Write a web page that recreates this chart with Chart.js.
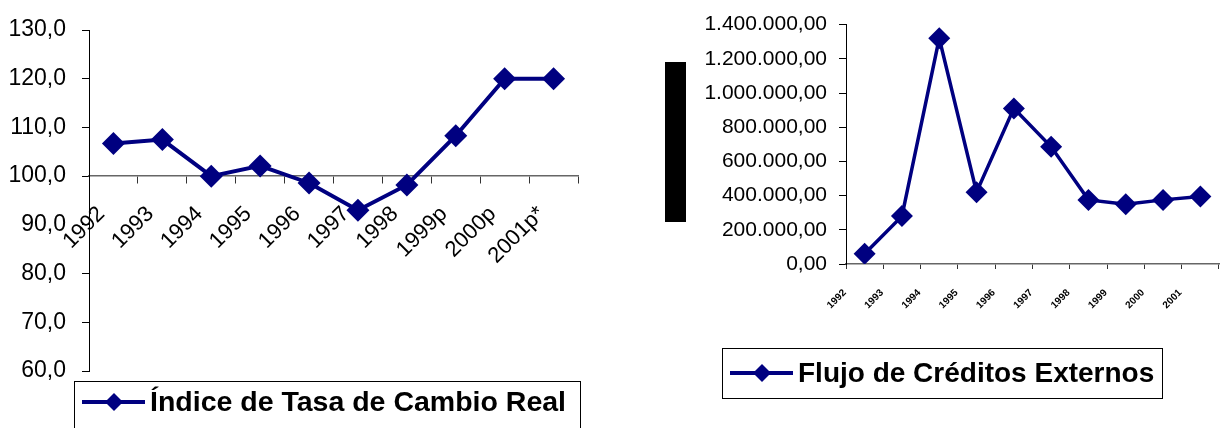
<!DOCTYPE html>
<html>
<head>
<meta charset="utf-8">
<script src="https://cdn.jsdelivr.net/npm/chart.js@4.4.0/dist/chart.umd.min.js"></script>
<style>
  html, body { margin: 0; padding: 0; background: #fff; }
  #page { position: relative; width: 1230px; height: 428px; overflow: hidden; }
  canvas { position: absolute; top: 0; }
  #tasaChart { left: 0; }
  #creditosChart { left: 630px; }
  #barraTitulo { position: absolute; left: 665px; top: 62px; width: 21px; height: 160px; background: #000; z-index: 2; }
</style>
</head>
<body>
<div id="page">
  <canvas id="tasaChart" width="600" height="428"></canvas>
  <canvas id="creditosChart" width="600" height="428"></canvas>
  <div id="barraTitulo"></div>
</div>
<script>
// indice de tasa de cambio real
const anios = ['1992', '1993', '1994', '1995', '1996', '1997', '1998', '1999p', '2000p', '2001p*']
const indiceTasa = [106.7, 107.5, 100.0, 102.1, 98.6, 93.0, 98.2, 108.3, 120.0, 120.0]
const ticksIndice = [60, 70, 80, 90, 100, 110, 120, 130]

// flujo de creditos externos
const aniosCreditos = ['1992', '1993', '1994', '1995', '1996', '1997', '1998', '1999', '2000', '2001']
const flujoCreditos = [60000, 280000, 1320000, 420000, 910000, 685000, 375000, 350000, 375000, 395000]
const ticksCreditos = [0, 200000, 400000, 600000, 800000, 1000000, 1200000, 1400000]

const AZUL = '#000080'
const FUENTE = '"Liberation Sans", Arial, Helvetica, sans-serif'
Chart.defaults.font.family = FUENTE
Chart.defaults.color = '#000'

const coma1 = v => v.toFixed(1).replace('.', ',')
const miles = v => {
  let ent = Math.round(v).toString().replace(/\B(?=(\d{3})+(?!\d))/g, '.')
  return ent + ',00'
}

// legend with a frame, line and diamond like the spreadsheet one
const leyendaMarco = {
  id: 'leyendaMarco',
  afterDraw(chart, args, opts) {
    const ctx = chart.ctx
    const ds = chart.data.datasets[0]
    const { x, y, w, h, midY, size } = opts
    const my = y + midY
    ctx.save()
    ctx.fillStyle = '#fff'
    ctx.fillRect(x, y, w, h)
    ctx.strokeStyle = '#000'
    ctx.lineWidth = 1
    ctx.strokeRect(x + 0.5, y + 0.5, w, h)

    ctx.strokeStyle = ds.borderColor
    ctx.lineWidth = 4
    ctx.beginPath()
    ctx.moveTo(x + 8, my)
    ctx.lineTo(x + 71, my)
    ctx.stroke()

    const cx = x + 40, r = 9
    ctx.fillStyle = ds.borderColor
    ctx.beginPath()
    ctx.moveTo(cx, my - r)
    ctx.lineTo(cx + r, my)
    ctx.lineTo(cx, my + r)
    ctx.lineTo(cx - r, my)
    ctx.closePath()
    ctx.fill()

    ctx.fillStyle = '#000'
    ctx.font = 'bold ' + size + 'px ' + FUENTE
    ctx.textBaseline = 'middle'
    ctx.textAlign = 'left'
    ctx.fillText(ds.label, x + 76, my + 1)
    ctx.restore()
  }
}

const ctx1 = document.getElementById('tasaChart')

let config1 = {
  type: 'line',
  data: {
    labels: anios,
    datasets: [{
      label: 'Índice de Tasa de Cambio Real',
      data: indiceTasa,
      borderColor: AZUL,
      backgroundColor: AZUL,
      borderWidth: 4,
      pointStyle: 'rectRot',
      pointRadius: 11.5,
      pointBorderWidth: 0,
      tension: 0,
    }]
  },
  plugins: [leyendaMarco],
  options: {
    responsive: false,
    animation: false,
    layout: { padding: { top: 30, bottom: 57, right: 22, left: 0 } },
    plugins: {
      legend: { display: false },
      tooltip: { enabled: false },
      leyendaMarco: { x: 74, y: 381, w: 506, h: 60, midY: 21, size: 28.5 }
    },
    scales: {
      x: {
        type: 'category',
        offset: true,
        position: { y: 100 },
        border: { display: true, color: '#666', width: 1.5 },
        grid: { drawOnChartArea: false, offset: true, tickLength: 7, color: '#333' },
        ticks: {
          autoSkip: false,
          minRotation: 45,
          maxRotation: 45,
          padding: 18,
          labelOffset: -12,
          font: { size: 22 },
          color: '#000'
        }
      },
      y: {
        min: ticksIndice[0],
        max: ticksIndice[ticksIndice.length - 1],
        afterFit: scale => { scale.width = 89 },
        afterBuildTicks: scale => { scale.ticks = ticksIndice.map(v => ({ value: v })) },
        border: { display: true, color: '#000', width: 1 },
        grid: { drawOnChartArea: false, tickLength: 7, color: '#000' },
        ticks: {
          padding: 16,
          font: { size: 23 },
          color: '#000',
          callback: value => coma1(value)
        }
      }
    }
  }
}
let chartTasa = new Chart(ctx1, config1)

const ctx2 = document.getElementById('creditosChart')

let config2 = {
  type: 'line',
  data: {
    labels: aniosCreditos,
    datasets: [{
      label: 'Flujo de Créditos Externos',
      data: flujoCreditos,
      borderColor: AZUL,
      backgroundColor: AZUL,
      borderWidth: 3.5,
      pointStyle: 'rectRot',
      pointRadius: 11,
      pointBorderWidth: 0,
      tension: 0,
    }]
  },
  plugins: [leyendaMarco],
  options: {
    responsive: false,
    animation: false,
    layout: { padding: { top: 19, bottom: 0, right: 2, left: 0 } },
    plugins: {
      legend: { display: false },
      tooltip: { enabled: false },
      leyendaMarco: { x: 92, y: 348, w: 440, h: 50, midY: 25, size: 28 }
    },
    scales: {
      x: {
        type: 'category',
        offset: true,
        afterFit: scale => { scale.height = 164 },
        border: { display: true, color: '#666', width: 1.5 },
        grid: { drawOnChartArea: false, offset: true, tickLength: 5, color: '#333' },
        ticks: {
          autoSkip: false,
          minRotation: 45,
          maxRotation: 45,
          padding: 18,
          labelOffset: -20,
          font: { size: 10, weight: 'bold' },
          color: '#000'
        }
      },
      y: {
        min: ticksCreditos[0],
        max: ticksCreditos[ticksCreditos.length - 1],
        afterFit: scale => { scale.width = 216 },
        afterBuildTicks: scale => { scale.ticks = ticksCreditos.map(v => ({ value: v })) },
        border: { display: true, color: '#000', width: 1 },
        grid: { drawOnChartArea: false, tickLength: 7, color: '#000' },
        ticks: {
          padding: 12,
          font: { size: 21 },
          color: '#000',
          callback: value => miles(value)
        }
      }
    }
  }
}
let chartCreditos = new Chart(ctx2, config2)
</script>
</body>
</html>
